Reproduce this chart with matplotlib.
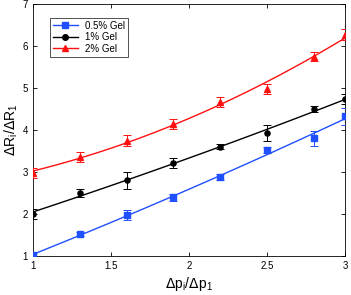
import numpy as np
import matplotlib.pyplot as plt

plt.rcParams['font.family'] = ['Liberation Sans', 'DejaVu Sans']

# Data
x = [1.0, 1.3, 1.6, 1.9, 2.2, 2.5, 2.8, 3.0]
gel_05 = [1.02, 1.52, 1.98, 2.40, 2.88, 3.52, 3.80, 4.33]
gel_05_err = [0.05, 0.05, 0.12, 0.08, 0.07, 0.07, 0.18, 0.20]
gel_1 = [2.00, 2.50, 2.80, 3.22, 3.60, 3.93, 4.50, 4.73]
gel_1_err = [0.12, 0.10, 0.20, 0.12, 0.06, 0.18, 0.08, 0.12]
gel_2 = [2.98, 3.35, 3.75, 4.15, 4.67, 4.97, 5.75, 6.27]
gel_2_err = [0.12, 0.12, 0.13, 0.12, 0.12, 0.12, 0.10, 0.13]

series = [
    ('0.5% Gel', gel_05, gel_05_err, '#1f4fff', 's'),
    ('1% Gel', gel_1, gel_1_err, 'black', 'o'),
    ('2% Gel', gel_2, gel_2_err, '#ff1010', '^'),
]

fig = plt.figure(figsize=(3.51, 2.95), dpi=100)
ax = fig.add_axes([0.094, 0.132, 0.889, 0.854])

xs = np.linspace(1, 3, 100)
for label, y, err, col, mk in series:
    coef = np.polyfit(x, y, 2)
    ax.plot(xs, np.polyval(coef, xs), color=col, lw=1.0, zorder=2)
    ax.errorbar(x, y, yerr=err, fmt=mk, color=col, ms=3.7, elinewidth=0.7,
                capsize=3, capthick=0.7, zorder=3)
    ax.plot([], [], color=col, marker=mk, ms=4, lw=1.0, label=label)

ax.set_xlim(1, 3)
ax.set_ylim(1, 7)
ax.set_xticks([1, 1.5, 2, 2.5, 3])
ax.set_xticklabels(['1', '1.5', '2', '2.5', '3'])
ax.set_yticks([1, 2, 3, 4, 5, 6, 7])
ax.tick_params(direction='in', top=True, right=True, labelsize=7, length=3, width=0.6)
for s in ax.spines.values():
    s.set_linewidth(0.6)

ax.set_xlabel(r'$\Delta$p$_{\mathregular{i}}$/$\Delta$p$_{\mathregular{1}}$', fontsize=10, labelpad=3)
ax.set_ylabel(r'$\Delta$R$_{\mathregular{i}}$/$\Delta$R$_{\mathregular{1}}$', fontsize=10, labelpad=2)

leg = ax.legend(loc='upper left', fontsize=7, frameon=True, fancybox=False,
                edgecolor='black', handlelength=2.5, borderpad=0.3,
                labelspacing=0.15, bbox_to_anchor=(0.04, 0.965))
leg.get_frame().set_linewidth(0.6)

fig.savefig('out.png', dpi=100)
